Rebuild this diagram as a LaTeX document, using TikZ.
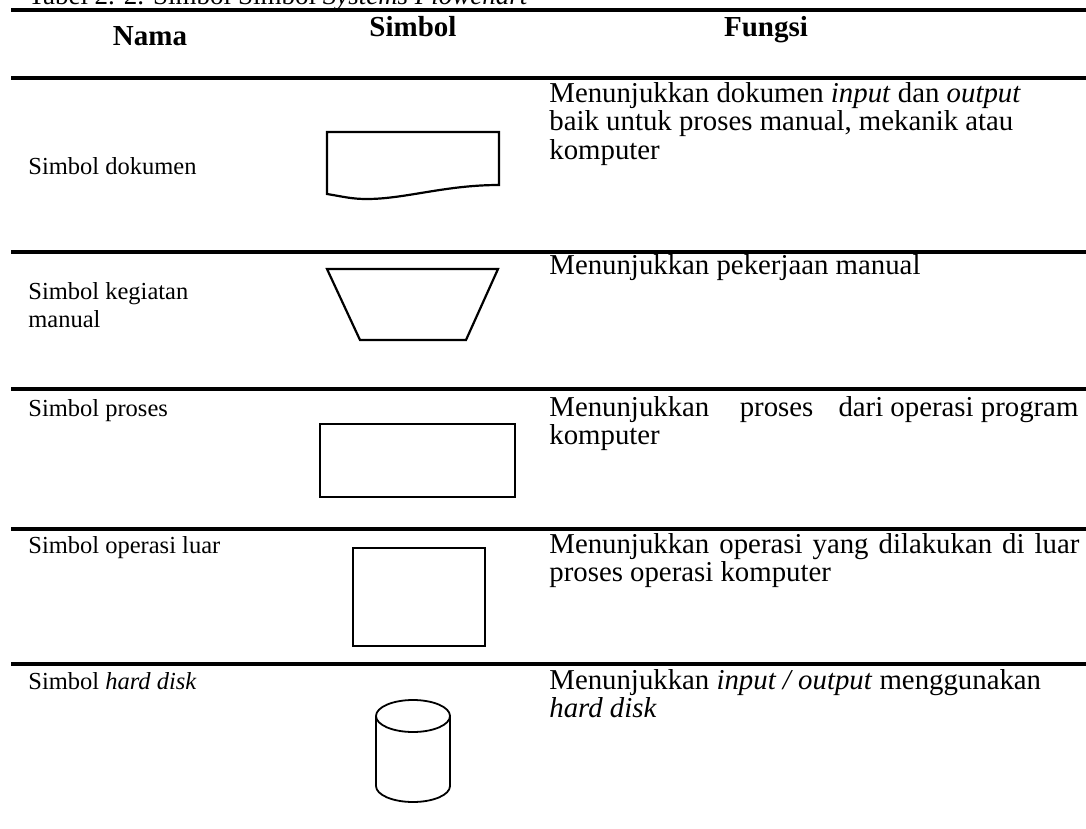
\documentclass[tikz,border=0pt]{standalone}
\usepackage{fontspec}
\setmainfont{Liberation Serif}
\begin{document}
\begin{tikzpicture}[x=0.5pt,y=-0.5pt,
  rule/.style={line width=1.6pt},
  sym/.style={line width=1.1pt, line join=miter},
  cyl/.style={line width=0.9pt},
  txt/.style={anchor=base west, inner sep=0pt, font=\fontsize{12.25}{14}\selectfont},
  ftxt/.style={anchor=base west, inner sep=0pt, font=\fontsize{14.4}{14}\selectfont},
  hdr/.style={anchor=base, inner sep=0pt, font=\fontsize{14.5}{14}\selectfont\bfseries}]
\useasboundingbox (0,0) rectangle (1086,829);
\clip (0,0) rectangle (1086,829);
% caption
\node[anchor=base west, inner sep=0pt, font=\fontsize{13.5}{14}\selectfont] (cap) at (28,5) {Tabel 2. 2. Simbol Simbol \textit{Systems Flowchart}};
% rules
\foreach \yy in {10,78,252,389,529,664} \draw[rule] (11,\yy) -- (1086,\yy);
% header
\node[hdr] (hnama) at (150,46) {Nama};
\node[hdr] (hsimbol) at (413,37) {Simbol};
\node[hdr] (hfungsi) at (766,37) {Fungsi};
% row 1
\node[txt] (n1) at (28,174) {Simbol dokumen};
\node[ftxt] (f1a) at (549,103) {Menunjukkan dokumen \textit{input} dan \textit{output}};
\node[ftxt] (f1b) at (549,131) {baik untuk proses manual, mekanik atau};
\node[ftxt] (f1c) at (549,159) {komputer};
\draw[sym] (327,132) -- (327,194) .. controls (345,197) and (352,199) .. (367,199)
  .. controls (405,199) and (445,185) .. (499,185) -- (499,132) -- cycle;
% row 2
\node[txt] (n2a) at (28,299) {Simbol kegiatan};
\node[txt] (n2b) at (28,327) {manual};
\node[ftxt] (f2) at (549,274) {Menunjukkan pekerjaan manual};
\draw[sym] (327,269) -- (498,269) -- (466,340) -- (360,340) -- cycle;
% row 3
\node[txt] (n3) at (28,416) {Simbol proses};
\node[ftxt] (f3a) at (549,416) {\hbox to 264.5pt{Menunjukkan\hspace{0pt plus 1.3fil} proses\hspace{0pt plus 1fil} dari operasi program}};
\node[ftxt] (f3b) at (549,444) {komputer};
\draw[sym] (320,424) rectangle (515,497);
% row 4
\node[txt] (n4) at (28,553) {Simbol operasi luar};
\node[ftxt] (f4a) at (549,553) {\hbox to 265pt{Menunjukkan\hfil\ operasi\hfil\ yang\hfil\ dilakukan\hfil\ di\hfil\ luar}};
\node[ftxt] (f4b) at (549,581) {proses operasi komputer};
\draw[sym] (353,548) rectangle (485,646);
% row 5
\node[txt] (n5) at (28,689) {Simbol \textit{hard disk}};
\node[ftxt] (f5a) at (549,689) {Menunjukkan \textit{input / output} menggunakan};
\node[ftxt] (f5b) at (549,717) {\textit{hard disk}};
\draw[cyl] (413,716) ellipse [x radius=37, y radius=16];
\draw[cyl] (376,716) -- (376,786) arc [start angle=180, end angle=0, x radius=37, y radius=16] -- (450,716);
\end{tikzpicture}
\end{document}
